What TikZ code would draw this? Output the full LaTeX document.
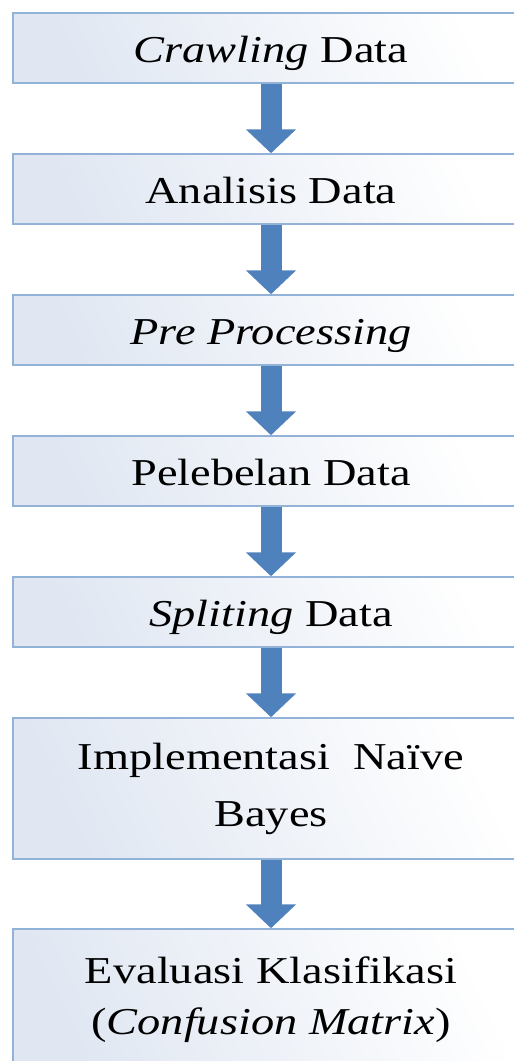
\documentclass[tikz,border=0pt]{standalone}
\usepackage{fontspec}
\setmainfont{Liberation Serif}[FakeStretch=1.22]
\usetikzlibrary{arrows.meta}
\definecolor{boxborder}{RGB}{146,178,216}
\definecolor{boxfill}{RGB}{224,231,242}
\definecolor{arrowblue}{RGB}{79,129,189}
\tikzset{
  stepbox/.style={draw=boxborder, line width=1.5pt, left color=boxfill, middle color=boxfill!35!white, right color=white, shading angle=115,
    minimum width=516pt, inner sep=0pt, align=center, font=\fontsize{38}{57}\selectfont},
  onebox/.style={stepbox, minimum height=70pt, text height=30pt, text depth=2pt},
  flowarrow/.style={draw=arrowblue, line width=21pt, -{Triangle[width=49pt,length=24pt,fill=arrowblue]}}
}
\begin{document}
\begin{tikzpicture}[x=1pt,y=-1pt]
\useasboundingbox (0,0) rectangle (514,1061);
\clip (0,0) rectangle (514,1061);
\node[onebox] (b1) at (271,48) {\textit{Crawling} Data};
\node[onebox] (b2) at (271,189) {Analisis Data};
\node[onebox] (b3) at (271,330) {\textit{Pre Processing}};
\node[onebox] (b4) at (271,471) {Pelebelan Data};
\node[onebox] (b5) at (271,612) {\textit{Spliting} Data};
\node[stepbox, minimum height=141pt] (b6) at (271,788.5) {Implementasi\ \ Naïve\\Bayes};
\node[stepbox, minimum height=141pt, font=\fontsize{38}{51}\selectfont] (b7) at (271,999.5) {Evaluasi Klasifikasi\\(\textit{Confusion Matrix})\rule[-8pt]{0pt}{0pt}};
\draw[flowarrow] (b1.south) -- (b2.north);
\draw[flowarrow] (b2.south) -- (b3.north);
\draw[flowarrow] (b3.south) -- (b4.north);
\draw[flowarrow] (b4.south) -- (b5.north);
\draw[flowarrow] (b5.south) -- (b6.north);
\draw[flowarrow] (b6.south) -- (b7.north);
\end{tikzpicture}
\end{document}
